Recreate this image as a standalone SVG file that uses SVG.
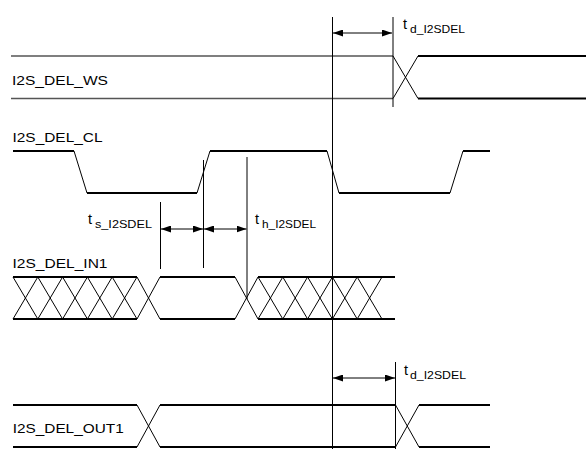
<svg xmlns="http://www.w3.org/2000/svg" width="586" height="449" viewBox="0 0 586 449">
<style>
.sig{fill:none;stroke:#000;stroke-width:2}
.sigg{fill:none;stroke:#555;stroke-width:1.6}
.edge{fill:none;stroke:#000;stroke-width:1}
.vl{fill:none;stroke:#000;stroke-width:1}
.arr{fill:none;stroke:#000;stroke-width:1;marker-start:url(#ah);marker-end:url(#ah)}
.lbl{font-family:"Liberation Sans",Arial,sans-serif;font-size:13px;fill:#000}
.t{font-family:"Liberation Sans",Arial,sans-serif;font-size:14.5px;fill:#000}
.sub{font-family:"Liberation Sans",Arial,sans-serif;font-size:11.5px;fill:#000}
</style>
<defs>
<marker id="ah" markerUnits="userSpaceOnUse" markerWidth="11" markerHeight="7" refX="10" refY="3.5" orient="auto-start-reverse">
<path d="M0,0 L10,3.5 L0,7 z" fill="#000"/>
</marker>
</defs>
<rect width="586" height="449" fill="#fff"/>

<g id="ws">
<text class="lbl" x="12" y="84.5" textLength="96" lengthAdjust="spacingAndGlyphs">I2S_DEL_WS</text>
<path class="sigg" d="M11,56 H393 M11,98.5 H393"/>
<path class="edge" d="M393,56 L418,98.5 M393,98.5 L418,56"/>
<path class="sig" d="M418,56 H586 M418,98.5 H586"/>
</g>

<g id="cl">
<text class="lbl" x="12.5" y="141.5" textLength="90" lengthAdjust="spacingAndGlyphs">I2S_DEL_CL</text>
<path class="sig" d="M13,151 H74 M87,193 H197 M210,151 H327 M339,193 H450 M463,151 H490"/>
<path class="edge" d="M74,151 L87,193 M197,193 L210,151 M327,151 L339,193 M450,193 L463,151"/>
</g>

<g id="in1">
<text class="lbl" x="12.5" y="267.5" textLength="95" lengthAdjust="spacingAndGlyphs">I2S_DEL_IN1</text>
<path class="sig" d="M13,277 H137 M13,319 H137 M160,277 H235 M160,319 H235 M258,277 H395 M258,319 H395"/>
<path class="edge" d="M13,277 L37.8,319 L62.6,277 L87.4,319 L112.2,277 L137,319 L160,277 M13,319 L37.8,277 L62.6,319 L87.4,277 L112.2,319 L137,277 L160,319"/>
<path class="edge" d="M235,277 L258,319 L282.8,277 L307.6,319 L332.4,277 L357.2,319 L382,277 M235,319 L258,277 L282.8,319 L307.6,277 L332.4,319 L357.2,277 L382,319"/>
</g>

<g id="out1">
<text class="lbl" x="12.7" y="432.5" textLength="111" lengthAdjust="spacingAndGlyphs">I2S_DEL_OUT1</text>
<path class="sig" d="M13,405 H137 M13,447 H137 M160,405 H395.5 M160,447 H395.5 M419,405 H490 M419,447 H490"/>
<path class="edge" d="M137,405 L160,447 M137,447 L160,405 M395.5,405 L419,447 M395.5,447 L419,405"/>
</g>

<g id="connectors">
<path class="vl" d="M332.5,17 V449 M393,17 V107 M395.5,362 V449 M160.5,202 V269 M203.5,160 V268 M247,157 V299"/>
<path class="arr" d="M333,33 H392"/>
<path class="arr" d="M161,229 H203"/>
<path class="arr" d="M204,229 H246.5"/>
<path class="arr" d="M333,378 H395"/>
</g>

<g id="timing-labels">
<text class="t" x="403" y="28.5">t</text><text class="sub" x="410" y="32.5" textLength="55" lengthAdjust="spacingAndGlyphs">d_I2SDEL</text>
<text class="t" x="88" y="223.5">t</text><text class="sub" x="95" y="227.5" textLength="57" lengthAdjust="spacingAndGlyphs">s_I2SDEL</text>
<text class="t" x="255" y="223.5">t</text><text class="sub" x="262" y="227.5" textLength="54" lengthAdjust="spacingAndGlyphs">h_I2SDEL</text>
<text class="t" x="404" y="374.5">t</text><text class="sub" x="410" y="378.5" textLength="56" lengthAdjust="spacingAndGlyphs">d_I2SDEL</text>
</g>
</svg>
